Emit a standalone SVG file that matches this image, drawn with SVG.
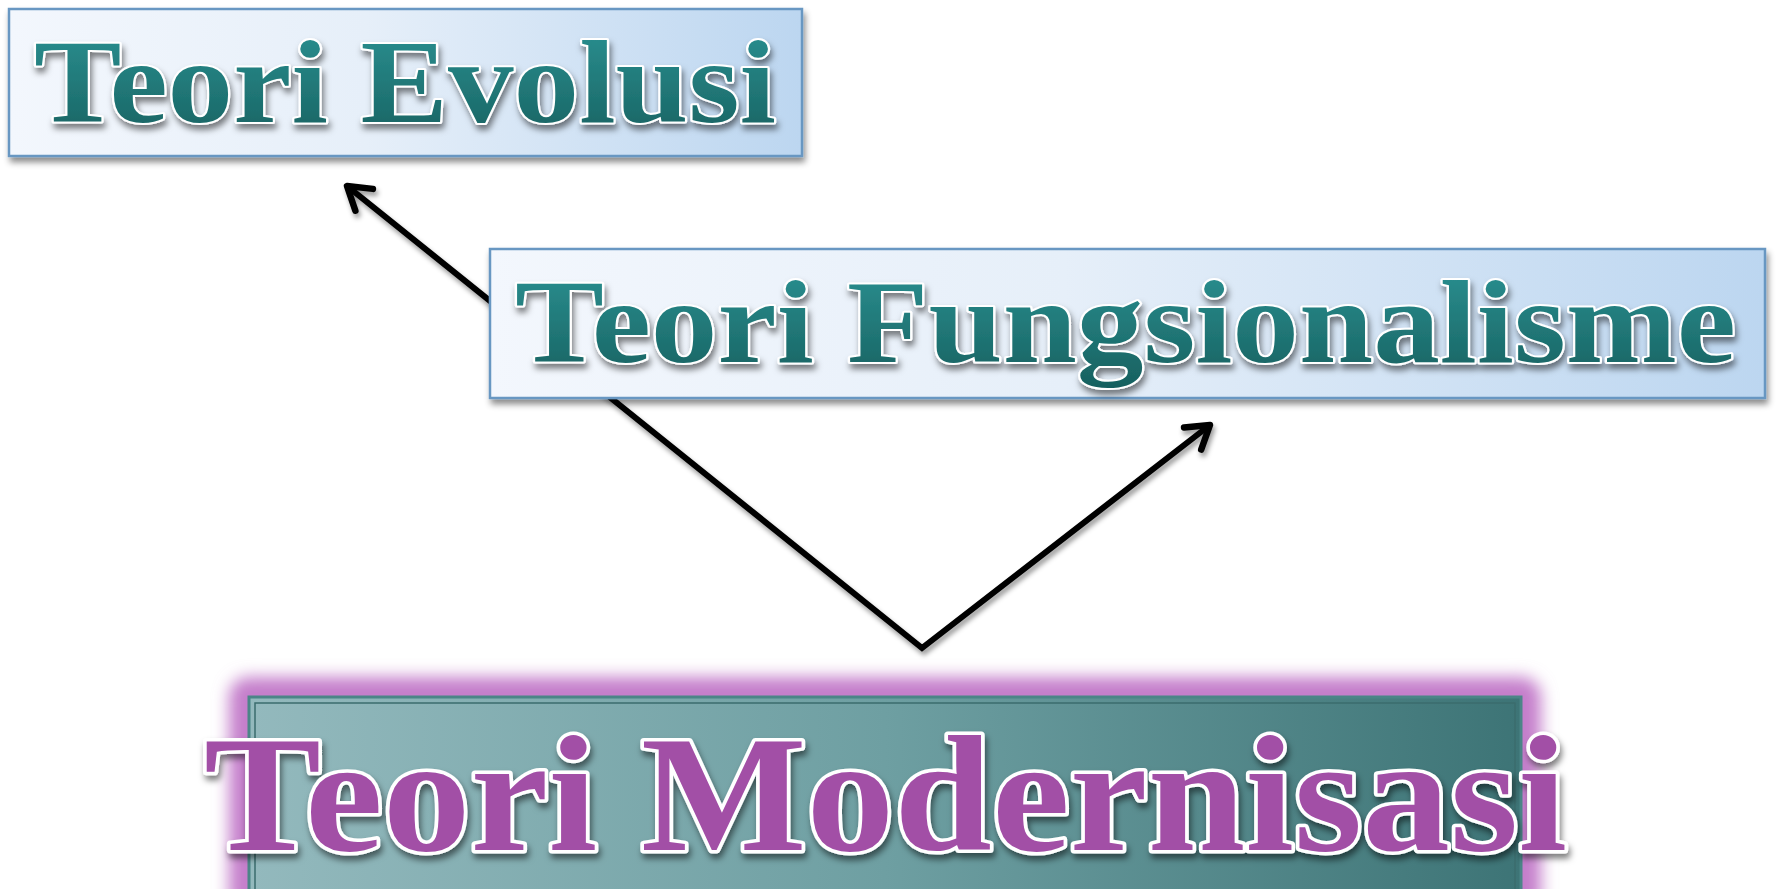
<svg xmlns="http://www.w3.org/2000/svg" width="1776" height="889" viewBox="0 0 1776 889">
<defs>
<linearGradient id="boxGrad" x1="0" y1="0" x2="1" y2="0">
<stop offset="0" stop-color="#F3F7FD"/>
<stop offset="0.45" stop-color="#E6EFF9"/>
<stop offset="1" stop-color="#BCD6F0"/>
</linearGradient>
<linearGradient id="modGrad" x1="0" y1="0" x2="1" y2="0">
<stop offset="0" stop-color="#93B9BD"/>
<stop offset="0.5" stop-color="#6E9FA2"/>
<stop offset="1" stop-color="#3D7476"/>
</linearGradient>
<linearGradient id="tealText" x1="0" y1="0" x2="0" y2="1">
<stop offset="0" stop-color="#2C9394"/>
<stop offset="1" stop-color="#17605F"/>
</linearGradient>
<filter id="shadow" x="-5%" y="-20%" width="110%" height="150%">
<feDropShadow dx="2" dy="5" stdDeviation="3" flood-color="#000" flood-opacity="0.45"/>
</filter>
<filter id="txtShadow" x="-5%" y="-20%" width="110%" height="150%">
<feDropShadow dx="2" dy="5" stdDeviation="3" flood-color="#000" flood-opacity="0.5"/>
</filter>
<filter id="lineShadow" x="-10%" y="-10%" width="120%" height="130%">
<feDropShadow dx="2" dy="4" stdDeviation="2.5" flood-color="#000" flood-opacity="0.4"/>
</filter>
<filter id="glow" x="-10%" y="-30%" width="120%" height="160%">
<feGaussianBlur stdDeviation="8"/>
</filter>
<marker id="arrow" markerUnits="userSpaceOnUse" markerWidth="40" markerHeight="40" viewBox="-30 -20 40 40" refX="0" refY="0" orient="auto-start-reverse">
<path d="M-22,-14 L0,0 L-22,14" fill="none" stroke="#000" stroke-width="6.5" stroke-linecap="round" stroke-linejoin="round"/>
</marker>
</defs>
<style>
.box{fill:url(#boxGrad);stroke:#6797C2;stroke-width:2.5}
.teal{font-family:"Liberation Serif","DejaVu Serif",serif;font-weight:bold;font-size:118px;fill:url(#tealText);stroke:#FFFFFF;stroke-width:4;paint-order:stroke;stroke-linejoin:round}
.mod{font-family:"Liberation Serif","DejaVu Serif",serif;font-weight:bold;font-size:166px;fill:#A24FA6;stroke:#FFFFFF;stroke-width:7;paint-order:stroke;stroke-linejoin:round}
.conn{fill:none;stroke:#000;stroke-width:6;stroke-linejoin:miter}
</style>
<rect width="1776" height="889" fill="#FFFFFF"/>
<g id="connectors" filter="url(#lineShadow)">
<path class="conn" d="M347,186 L922,648 L1210,425" marker-start="url(#arrow)" marker-end="url(#arrow)"/>
</g>
<g id="node-evolusi">
<rect class="box" x="9" y="9" width="793" height="147" filter="url(#shadow)"/>
<text class="teal" x="34" y="122" textLength="742" lengthAdjust="spacingAndGlyphs" filter="url(#txtShadow)">Teori Evolusi</text>
</g>
<g id="node-fungsionalisme">
<rect class="box" x="490" y="249" width="1275" height="149" filter="url(#shadow)"/>
<text class="teal" x="515" y="362" textLength="1221" lengthAdjust="spacingAndGlyphs" filter="url(#txtShadow)">Teori Fungsionalisme</text>
</g>
<g id="node-modernisasi">
<rect x="229" y="677" width="1312" height="240" rx="20" fill="#C47ECB" filter="url(#glow)"/>
<rect x="249" y="697" width="1272" height="200" fill="url(#modGrad)" stroke="#4B8587" stroke-width="3"/>
<rect x="255" y="703" width="1260" height="200" fill="none" stroke="#3B6C6E" stroke-width="1.5"/>
<text class="mod" x="204" y="850" textLength="1363" lengthAdjust="spacingAndGlyphs" filter="url(#txtShadow)">Teori Modernisasi</text>
</g>
</svg>
